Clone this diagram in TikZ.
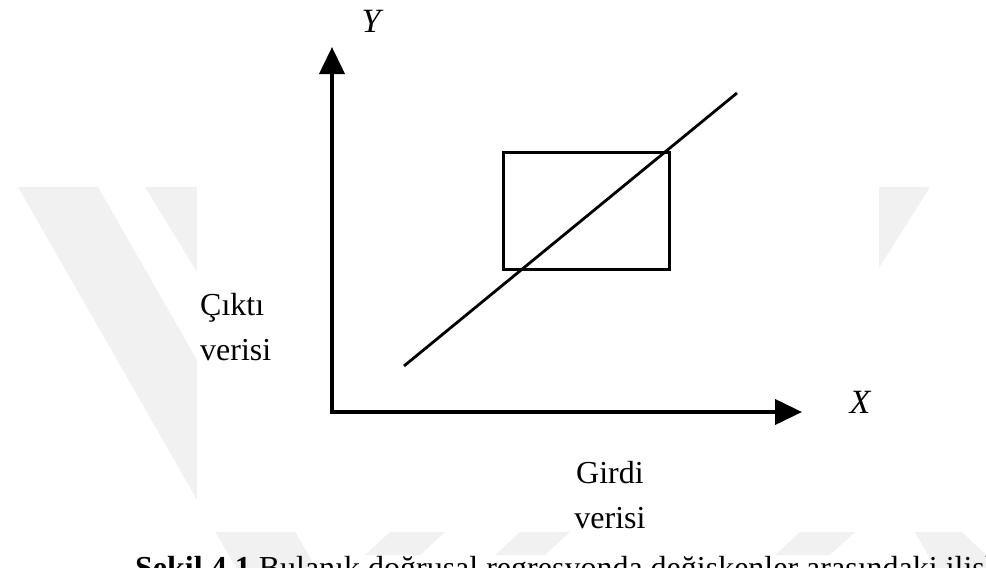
\documentclass[tikz,border=0pt]{standalone}
\usepackage{fontspec}
\setmainfont{Liberation Serif}
\usetikzlibrary{arrows.meta,positioning}
\definecolor{wmark}{RGB}{241,241,241}

\begin{document}
\begin{tikzpicture}[x=1pt, y=-1pt,
  axis/.style={line width=4pt, {Triangle[length=27pt,width=25pt]}-{Triangle[length=27pt,width=25pt]}},
  fitline/.style={line width=2.8pt},
  region/.style={draw, line width=3pt, inner sep=0pt, minimum width=166pt, minimum height=117pt},
  lbl/.style={font=\fontsize{32}{38}\selectfont, inner sep=0pt, anchor=base west},
  var/.style={font=\fontsize{34}{40}\selectfont\itshape, inner sep=0pt},
]
\useasboundingbox (0,0) rectangle (986,568);
\clip (0,0) rectangle (986,568);

\fill[wmark] (18,187) -- (98,187) -- (316,568) -- (236,568) -- cycle;
\fill[wmark] (145,187) -- (197,187) -- (197,272) -- cycle;
\fill[wmark] (879,187) -- (930,187) -- (879,268) -- cycle;
\fill[wmark] (365,555) -- (390,532) -- (445,532) -- (420,555) -- cycle;
\fill[wmark] (495,555) -- (520,532) -- (570,532) -- (545,555) -- cycle;
\fill[wmark] (775,555) -- (800,532) -- (855,532) -- (830,555) -- cycle;
\fill[wmark] (915,532) -- (962,532) -- (986,555) -- (986,568) -- (935,568) -- cycle;
\fill[white] (197,0) rectangle (879,532);

\coordinate (O) at (332,412);
\coordinate (ytip) at (332,47);
\coordinate (xtip) at (802,412);
\draw[axis] (ytip) -- (O) -- (xtip);

\node[region] (box) at (586,210.5) {};
\coordinate (lo) at (404,366);
\coordinate (hi) at (737,93);
\draw[fitline] (lo) -- (hi);

\node[var] (ylab) at (371,21) {Y};
\node[var] (xlab) at (860,402) {X};
\node[lbl] (cikti) at (200,315) {Çıktı};
\node[lbl] (cverisi) at (200,360) {verisi};
\node[lbl, anchor=base] (girdi) at (610,483) {Girdi};
\node[lbl, anchor=base] (gverisi) at (610,528) {verisi};
\node[lbl] (caption) at (135,578) {\textbf{Şekil 4.1} Bulanık doğrusal regresyonda değişkenler arasındaki ilişki};
\end{tikzpicture}
\end{document}
